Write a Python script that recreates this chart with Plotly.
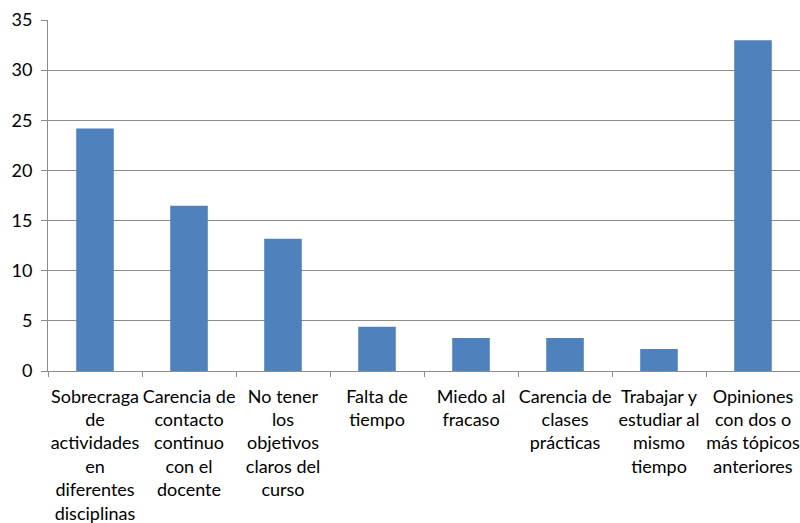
import plotly.graph_objects as go

categories = [
    "Sobrecraga<br>de<br>actividades<br>en<br>diferentes<br>disciplinas",
    "Carencia de<br>contacto<br>continuo<br>con el<br>docente",
    "No tener<br>los<br>objetivos<br>claros del<br>curso",
    "Falta de<br>tiempo",
    "Miedo al<br>fracaso",
    "Carencia de<br>clases<br>prácticas",
    "Trabajar y<br>estudiar al<br>mismo<br>tiempo",
    "Opiniones<br>con dos o<br>más tópicos<br>anteriores",
]
values = [24.18, 16.48, 13.19, 4.40, 3.30, 3.30, 2.20, 32.97]
y_ticks = [0, 5, 10, 15, 20, 25, 30, 35]

fig = go.Figure(go.Bar(
    x=categories, y=values, marker_color="#4F81BD",
    marker_line_width=0, width=0.4,
))

grid = "#8c8c8c"
fig.update_layout(
    width=800, height=523,
    margin=dict(l=48, r=0, t=20, b=152),
    plot_bgcolor="white", paper_bgcolor="white",
    font=dict(family="Lato, 'Open Sans', sans-serif", size=18, color="#000000"),
    showlegend=False,
    bargap=0.6,
)
fig.update_yaxes(
    range=[0, 35], tickvals=y_ticks, showgrid=True, gridcolor=grid, gridwidth=1,
    showline=True, linecolor=grid, linewidth=1, ticks="outside", ticklen=6,
    tickcolor=grid, zeroline=False, tickfont=dict(size=18), automargin=False,
    ticklabelstandoff=5,
)
fig.update_xaxes(
    showline=True, linecolor=grid, linewidth=1, ticks="outside", ticklen=5,
    tickcolor=grid, tickangle=0, tickson="boundaries", tickfont=dict(size=18),
    automargin=False, ticklabelstandoff=9,
)
fig.write_html(
    "out.html",
    config={"displayModeBar": False},
    post_script="document.body.style.margin='0';document.body.style.overflow='hidden';",
)
